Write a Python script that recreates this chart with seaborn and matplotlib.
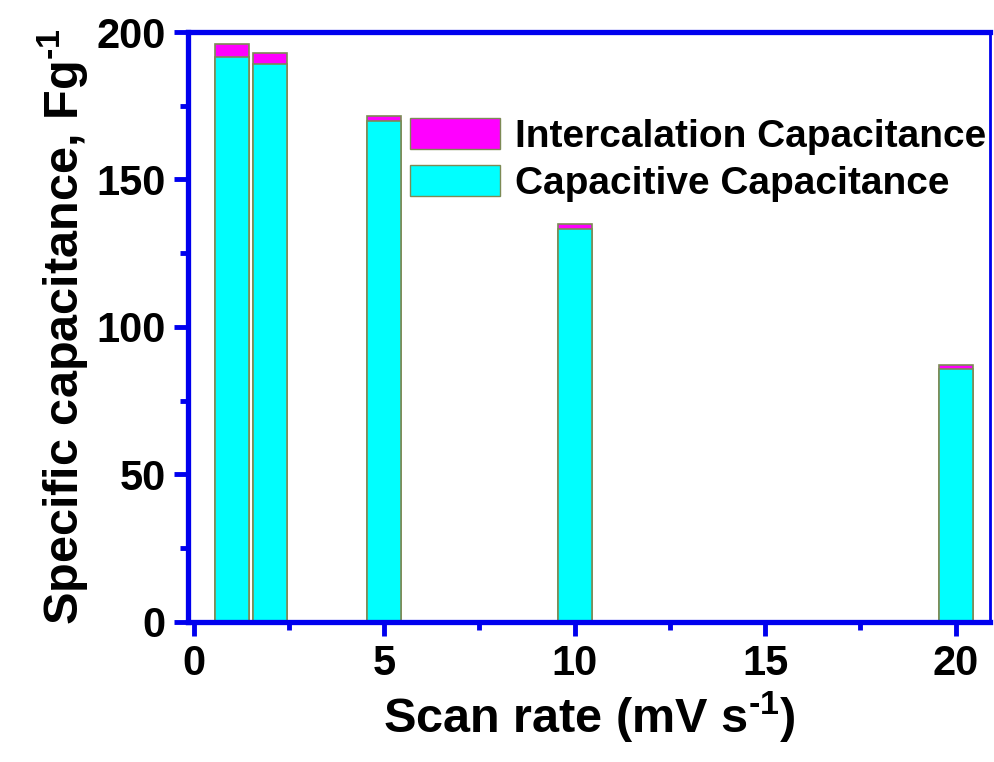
import matplotlib
matplotlib.use("Agg")
import matplotlib.pyplot as plt
import seaborn as sns
import numpy as np
import pandas as pd
from matplotlib.ticker import MultipleLocator
from matplotlib.patches import Patch

scan_rate = [1, 2, 5, 10, 20]
capacitive = [191.4, 189.3, 169.8, 133.1, 85.6]
intercalation = [4.5, 3.5, 1.8, 1.7, 1.4]

sns.set_style("white")
plt.rcParams['font.family'] = ['Liberation Sans', 'DejaVu Sans']
plt.rcParams['font.weight'] = 'bold'
plt.rcParams['text.color'] = 'black'
plt.rcParams['axes.labelcolor'] = 'black'
plt.rcParams['xtick.color'] = 'black'
plt.rcParams['ytick.color'] = 'black'
plt.rcParams['mathtext.fontset'] = 'custom'
plt.rcParams['mathtext.rm'] = 'Liberation Sans:bold'
plt.rcParams['mathtext.bf'] = 'Liberation Sans:bold'
plt.rcParams['mathtext.default'] = 'bf'

total = [c + i for c, i in zip(capacitive, intercalation)]
df = pd.DataFrame({"rate": scan_rate, "cap": capacitive, "total": total})

fig = plt.figure(figsize=(9.94, 7.62), dpi=100)
ax = fig.add_axes([0.189, 0.184, 0.807, 0.774])

edge = '#7d8a55'
sns.barplot(data=df, x="rate", y="total", native_scale=True, width=0.9,
            color='#ff00ff', saturation=1, edgecolor=edge, linewidth=1.2, ax=ax)
sns.barplot(data=df, x="rate", y="cap", native_scale=True, width=0.9,
            color='#00ffff', saturation=1, edgecolor=edge, linewidth=1.2, ax=ax)

ax.set_xlim(-0.15, 20.9)
ax.set_ylim(0, 200)
ax.xaxis.set_major_locator(MultipleLocator(5))
ax.xaxis.set_minor_locator(MultipleLocator(2.5))
ax.yaxis.set_major_locator(MultipleLocator(50))
ax.yaxis.set_minor_locator(MultipleLocator(25))

blue = '#0000ee'
for s in ax.spines.values():
    s.set_color(blue)
    s.set_linewidth(3.8)
ax.spines['right'].set_linewidth(2)

ax.tick_params(axis='both', which='major', direction='out', length=10, width=3.5,
               color=blue, labelsize=30, pad=6, labelcolor='black')
ax.tick_params(axis='both', which='minor', direction='out', length=6, width=3.5,
               color=blue)
ax.tick_params(bottom=True, left=True, which='both')
for lab in ax.get_xticklabels() + ax.get_yticklabels():
    lab.set_fontweight('bold')

ax.set_xlabel("Scan rate (mV s$^{\\text{-1}}$)", fontsize=35, fontweight='bold', labelpad=4)
ax.set_ylabel("Specific capacitance, Fg$^{\\text{-1}}$", fontsize=35, fontweight='bold', labelpad=4)

handles = [Patch(facecolor='#ff00ff', edgecolor=edge, label='Intercalation Capacitance'),
           Patch(facecolor='#00ffff', edgecolor=edge, label='Capacitive Capacitance')]
leg = ax.legend(handles=handles, loc='upper left', bbox_to_anchor=(0.258, 0.88),
                frameon=False, fontsize=28, handlelength=2.3, handleheight=0.85,
                handletextpad=0.4, labelspacing=0.25, borderaxespad=0)
for t in leg.get_texts():
    t.set_fontweight('bold')
    t.set_color('black')

fig.savefig("out.png", dpi=100)
